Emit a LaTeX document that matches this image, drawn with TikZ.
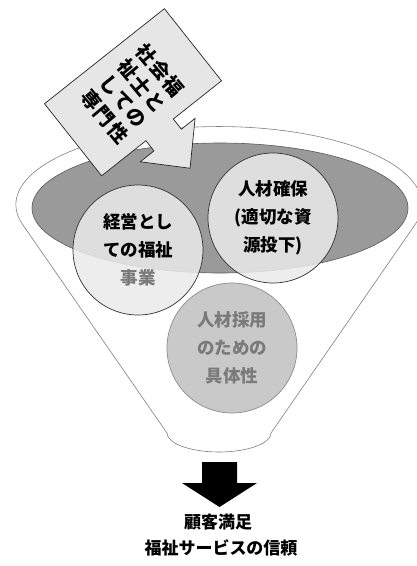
\documentclass[tikz,border=0pt]{standalone}
\usepackage{fontspec}
\newfontfamily\cjk{Noto Sans CJK JP}
\newfontfamily\cjkwide{Noto Sans CJK JP}[LetterSpace=8]
\definecolor{darkell}{HTML}{9A9A9A}
\definecolor{lightcirc}{HTML}{EBEBEB}
\definecolor{midcirc}{HTML}{C9C9C9}
\definecolor{calloutfill}{HTML}{E6E6E6}
\definecolor{softtext}{HTML}{7A7A7A}
\begin{document}
\begin{tikzpicture}[x=1pt,y=1pt,
  circtxt/.style={font=\cjk\bfseries\fontsize{17.5}{28}\selectfont, align=center, inner sep=0pt},
  bigcirc/.style={circle, minimum size=130pt, inner sep=0pt, line width=0.7pt},
  funnelline/.style={draw=black!50, line width=0.6pt},
  callout/.style={draw=black!85, fill=calloutfill, line width=0.7pt, line join=miter},
  callouttxt/.style={font=\cjkwide\bfseries\fontsize{19.5}{24}\selectfont, align=center, inner sep=0pt},
  bottomtxt/.style={font=\cjk\bfseries\fontsize{17}{20}\selectfont, inner sep=0pt}]
\useasboundingbox (0,0) rectangle (417,-566);
\clip (0,0) rectangle (417,-566);
% funnel body
\path[funnelline, fill=white] (23,-225)
  arc[start angle=195.2, end angle=-15.2, x radius=203, y radius=78]
  -- (271,-433)
  arc[start angle=0, end angle=-180, x radius=52, y radius=19]
  -- cycle;
% dark top ellipse
\draw[fill=darkell, draw=black!65, line width=0.6pt] (220,-208) ellipse[x radius=188, y radius=65];
% lower circle
\node[bigcirc, draw=black!45, fill=midcirc, circtxt, text=softtext] (c) at (232,-348)
  {人材採用\\のための\\具体性};
% upper circles (semi-transparent)
\node[bigcirc, draw=black!80, fill=lightcirc, fill opacity=0.85, text opacity=1, circtxt] (a) at (138,-250)
  {経営とし\\ての福祉\\{\color{softtext}事業}};
\node[bigcirc, draw=black!80, fill=lightcirc, fill opacity=0.85, text opacity=1, circtxt] (b) at (273,-218)
  {人材確保\\(適切な資\\源投下)};
% callout arrow
\begin{scope}[shift={(133,-92.25)}, rotate=38.4]
\path[callout] (-76.5,46) -- (76.5,46) -- (76.5,-46) -- (15,-46) -- (15,-59) -- (32.5,-59)
  -- (-2.5,-95) -- (-37.5,-59) -- (-20,-59) -- (-20,-46) -- (-76.5,-46) -- cycle;
\end{scope}
\node[callouttxt, rotate=-50] (k) at (132.5,-93.5)
  {社会福\\祉士と\\しての\\専門性};
% bottom arrow
\fill[black] (202,-462) -- (237,-462) -- (237,-483) -- (257,-483) -- (219.5,-507)
  -- (182,-483) -- (202,-483) -- cycle;
\node[bottomtxt] (t1) at (218,-522) {顧客満足};
\node[bottomtxt] (t2) at (221,-548) {福祉サービスの信頼};
\end{tikzpicture}
\end{document}
